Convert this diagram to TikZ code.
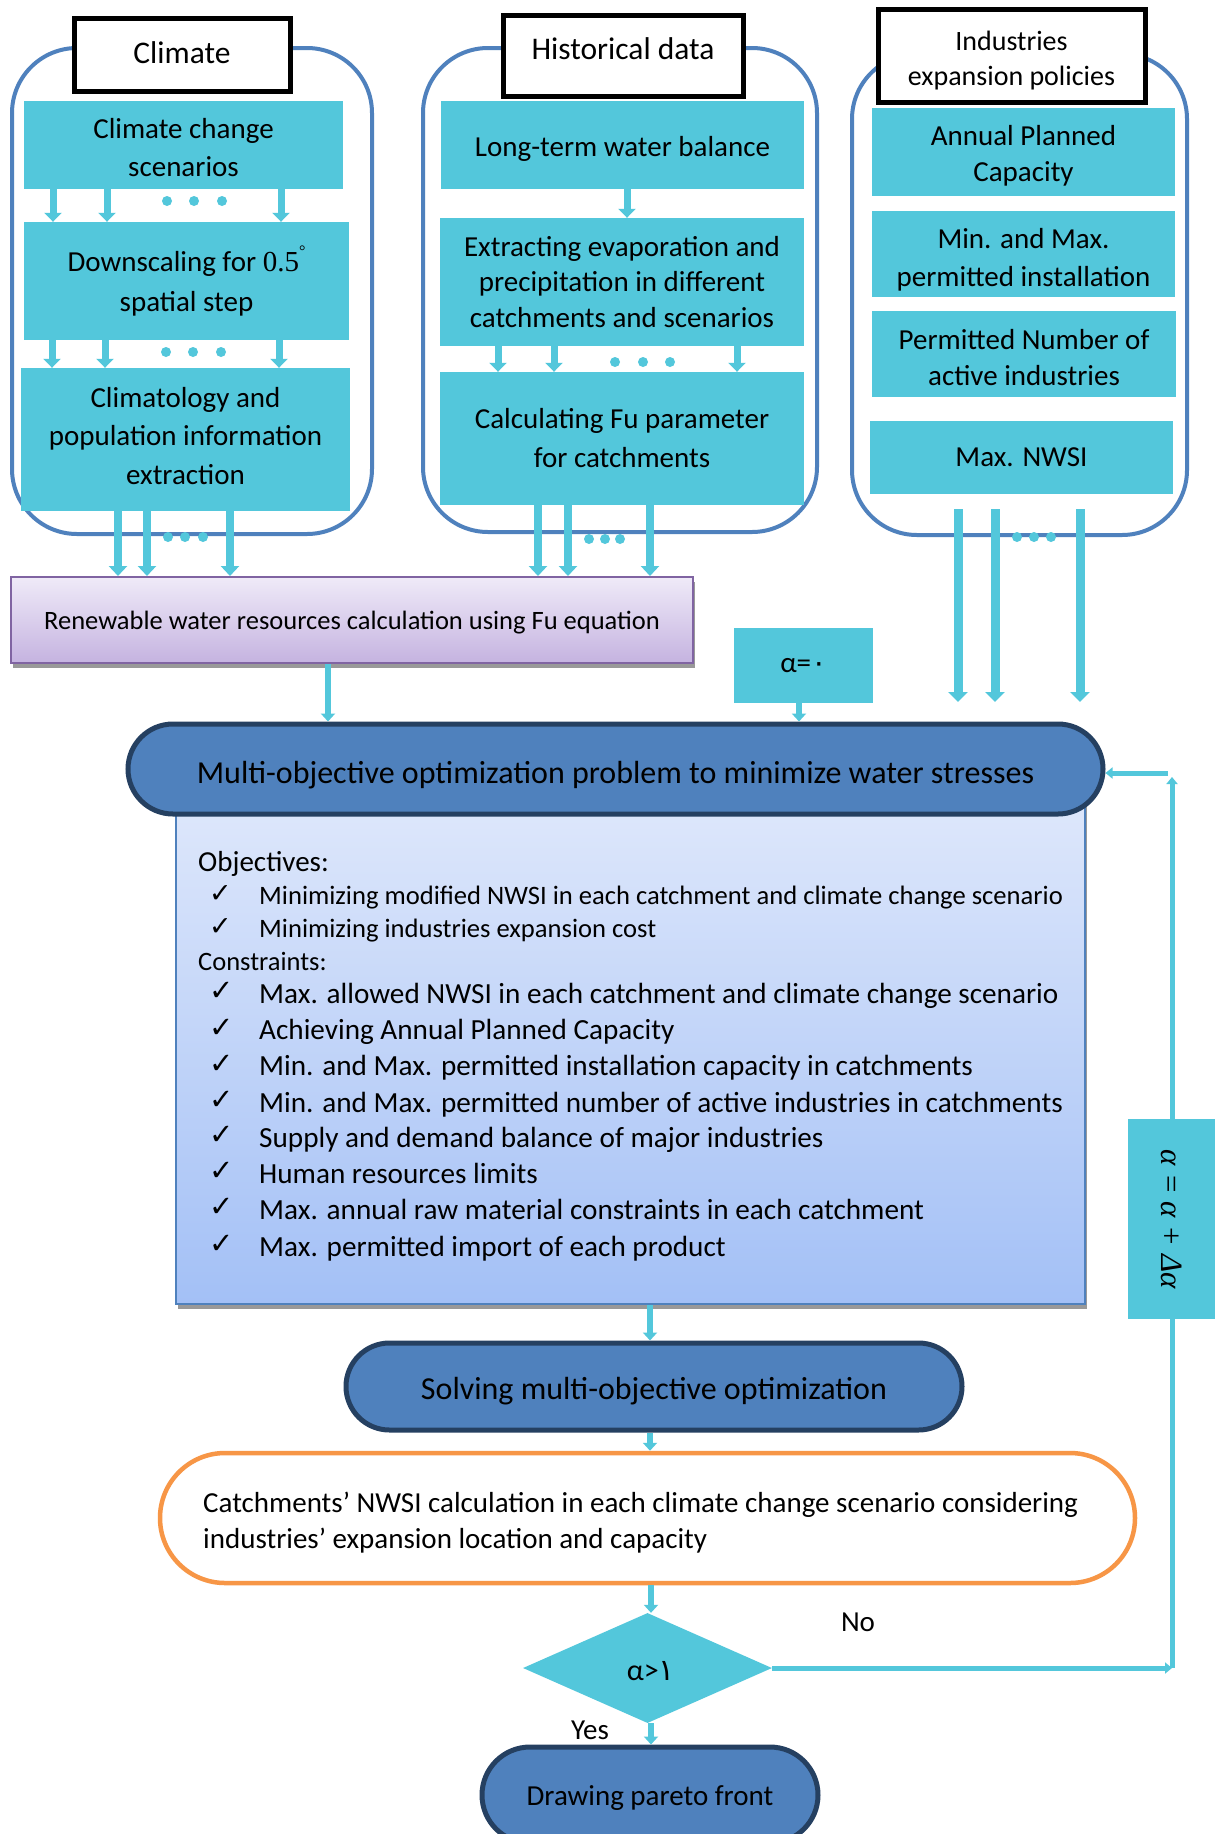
\documentclass[tikz,border=0pt]{standalone}
\usepackage{fontspec}
\setmainfont{Carlito}
\newfontfamily\arabicfont[Script=Arabic]{DejaVu Sans}
\newfontfamily\dejavu{DejaVu Sans}
\newfontfamily\serifmath{Liberation Serif}
\usetikzlibrary{arrows.meta,shapes.geometric,shadows}
\definecolor{aqua}{HTML}{53C7DB}
\definecolor{frameblue}{HTML}{4F81BD}
\definecolor{mainfill}{HTML}{4F81BD}
\definecolor{navy}{HTML}{254061}
\definecolor{orangeb}{HTML}{F79646}
\definecolor{purpb}{HTML}{8064A2}
\definecolor{renTop}{HTML}{EFEAF8}
\definecolor{renBot}{HTML}{C5B3E0}
\definecolor{objTop}{HTML}{DFE8FB}
\definecolor{objBot}{HTML}{A3C0F6}
\newcommand\fsz[2]{\fontsize{#1}{#2}\selectfont}
\newcommand\baseat[2]{\raisebox{-#1}[0pt][0pt]{#2}}
\tikzset{
  panel/.style={draw=frameblue, line width=4pt, rounded corners=65pt, inner sep=0pt},
  titlebox/.style={draw=black, line width=5pt, fill=white, inner sep=0pt, align=center, font=\fsz{31.5}{36}},
  cbox/.style={fill=aqua, inner sep=0pt, align=center, font=\fsz{29}{36}},
  plain/.style={inner sep=0pt, align=center, font=\fsz{29}{36}},
  smarr/.style={draw=aqua, line width=7pt, -{Triangle[width=17pt,length=9pt]}},
  outarr/.style={draw=aqua, line width=8pt, -{Triangle[width=18pt,length=10pt]}},
  indarr/.style={draw=aqua, line width=9pt, -{Triangle[width=19pt,length=10pt]}},
  midarr/.style={draw=aqua, line width=6pt, -{Triangle[width=14pt,length=8pt]}},
  fbarr/.style={draw=aqua, line width=5pt, -{Triangle[width=11pt,length=7pt]}},
  renbox/.style={draw=purpb, line width=2pt, top color=renTop, bottom color=renBot, inner sep=0pt,
    font=\fsz{26.5}{32}, drop shadow={shadow xshift=2pt, shadow yshift=-5pt, fill=gray!80, opacity=1}},
  objbox/.style={draw=frameblue, line width=2.5pt, top color=objTop, bottom color=objBot, inner sep=0pt,
    drop shadow={shadow xshift=2pt, shadow yshift=-5pt, fill=gray!80, opacity=1}},
  mainbox/.style={draw=navy, line width=5pt, fill=mainfill, inner sep=0pt, align=center},
  orbox/.style={draw=orangeb, line width=4.5pt, fill=white, inner sep=0pt, rounded corners=65pt},
  dot/.style={fill=aqua},
  objtxt/.style={anchor=mid west, inner sep=0pt, font=\fsz{26.6}{30}},
  contxt/.style={anchor=mid west, inner sep=0pt, font=\fsz{29.2}{33}},
  chk/.style={anchor=mid west, inner sep=0pt, font=\dejavu\fsz{27}{28}},
  chkb/.style={anchor=mid west, inner sep=0pt, font=\dejavu\fsz{29}{30}},
}
\begin{document}
\begin{tikzpicture}[x=1pt,y=-1pt]
\path[use as bounding box] (0,0) rectangle (1215,1834);
\clip (0,0) rectangle (1215,1834);
\fill[white] (0,0) rectangle (1215,1834);

% ---------- Climate panel ----------
\node[panel, minimum width=360pt, minimum height=486pt] (cf) at (192,291) {};
\node[titlebox, minimum width=216pt, minimum height=73pt] (ct) at (182,54.5) {\raisebox{3.5pt}{Climate}};
\node[cbox, minimum width=319pt, minimum height=88pt] (c1) at (183.5,145) {};
\node[plain, font=\fsz{29}{38}] (c1t) at (183.5,148) {Climate change\\scenarios};
\node[cbox, minimum width=325pt, minimum height=118pt, font=\fsz{29}{40}] (c2) at (186.5,281) {Downscaling for {\serifmath 0.5\raisebox{0.55em}{\fsz{16}{16}°}}\\spatial step};
\node[cbox, minimum width=329pt, minimum height=143pt] (c3) at (185.5,439.5) {};
\node[plain, font=\fsz{29}{38.6}] (c3t) at (185.5,436) {Climatology and\\population information\\extraction};

% ---------- Historical panel ----------
\node[panel, minimum width=394pt, minimum height=484pt] (hf) at (620,290) {};
\node[titlebox, minimum width=240pt, minimum height=81pt] (ht) at (623,55.5) {\baseat{3.5pt}{Historical data}};
\node[cbox, minimum width=363pt, minimum height=88pt] (h1) at (622.5,145) {\baseat{11pt}{Long-term water balance}};
\node[cbox, minimum width=364pt, minimum height=128pt, font=\fsz{29}{35.5}] (h2) at (622,282) {Extracting evaporation and\\precipitation in different\\catchments and scenarios};
\node[cbox, minimum width=364pt, minimum height=133pt, font=\fsz{29}{39}] (h3) at (622,438.5) {Calculating Fu parameter\\for catchments};

% ---------- Industries panel ----------
\node[panel, minimum width=335pt, minimum height=481pt] (if) at (1019.5,294.5) {};
\node[titlebox, minimum width=267pt, minimum height=93pt] (it) at (1011.5,55.5) {};
\node[plain, font=\fsz{28}{35}] (itt) at (1011.5,60.5) {Industries\\expansion policies};
\node[cbox, minimum width=303pt, minimum height=88pt] (i1) at (1023.5,152) {};
\node[plain] (i1t) at (1023.5,156) {Annual Planned\\Capacity};
\node[cbox, minimum width=303pt, minimum height=86pt] (i2) at (1023.5,254) {};
\node[plain, font=\fsz{29}{38}] (i2t) at (1023.5,260) {Min. and Max.\\permitted installation};
\node[cbox, minimum width=304pt, minimum height=86pt] (i3) at (1024,354) {};
\node[plain] (i3t) at (1024,358) {Permitted Number of\\active industries};
\node[cbox, minimum width=303pt, minimum height=73pt] (i4) at (1021.5,457.5) {Max. NWSI};

% ---------- Middle ----------
\node[renbox, minimum width=682pt, minimum height=86pt] (ren) at (352,620) {\baseat{9pt}{Renewable water resources calculation using Fu equation}};
\node[cbox, minimum width=139pt, minimum height=75pt] (a0) at (803.5,665.5) {α={\arabicfont ٠}};

\node[objbox, minimum width=909pt, minimum height=514pt] (obj) at (630.5,1047) {};
\node[mainbox, minimum width=975pt, minimum height=90pt, rounded corners=45pt, font=\fsz{32}{36}] (main) at (615.5,769) {\baseat{14pt}{Multi-objective optimization problem to minimize water stresses}};

% objectives text
\node[anchor=mid west, inner sep=0pt, font=\fsz{29}{32}] (t0) at (198,869) {Objectives:};
\node[chk] (k1) at (209,900) {✓};
\node[objtxt] (t1) at (259,902) {Minimizing modified NWSI in each catchment and climate change scenario};
\node[chk] (k2) at (209,933) {✓};
\node[objtxt] (t2) at (259,935) {Minimizing industries expansion cost};
\node[anchor=mid west, inner sep=0pt, font=\fsz{26.5}{30}] (t3) at (198,968) {Constraints:};
\node[chkb] (k4) at (209,998) {✓};
\node[contxt] (t4) at (259,1001) {Max. allowed NWSI in each catchment and climate change scenario};
\node[chkb] (k5) at (209,1035) {✓};
\node[contxt] (t5) at (259,1037) {Achieving Annual Planned Capacity};
\node[chkb] (k6) at (209,1071) {✓};
\node[contxt] (t6) at (259,1073) {Min. and Max. permitted installation capacity in catchments};
\node[chkb] (k7) at (209,1107) {✓};
\node[contxt] (t7) at (259,1110) {Min. and Max. permitted number of active industries in catchments};
\node[chkb] (k8) at (209,1142) {✓};
\node[contxt] (t8) at (259,1145) {Supply and demand balance of major industries};
\node[chkb] (k9) at (209,1178) {✓};
\node[contxt] (t9) at (259,1181) {Human resources limits};
\node[chkb] (k10) at (209,1214) {✓};
\node[contxt] (t10) at (259,1217) {Max. annual raw material constraints in each catchment};
\node[chkb] (k11) at (209,1251) {✓};
\node[contxt] (t11) at (259,1254) {Max. permitted import of each product};

\node[mainbox, minimum width=616pt, minimum height=87pt, rounded corners=43.5pt, font=\fsz{32}{36}] (solve) at (654,1386.5) {\baseat{12.5pt}{Solving multi-objective optimization}};
\node[orbox, minimum width=975pt, minimum height=130pt] (catch) at (647.5,1518) {};
\node[anchor=west, inner sep=0pt, align=left, font=\fsz{29}{36}] (catcht) at (203,1522.5) {Catchments’ NWSI calculation in each climate change scenario considering\\industries’ expansion location and capacity};
\node[diamond, fill=aqua, minimum width=249pt, minimum height=110pt, inner sep=0pt] (dia) at (647.5,1668) {};
\node[inner sep=0pt, font=\fsz{30}{32}] (diat) at (651,1671.5) {α>{\arabicfont ١}};
\node[mainbox, minimum width=336pt, minimum height=96pt, rounded corners=48pt, font=\fsz{29}{32}] (par) at (650,1795) {\baseat{10pt}{Drawing pareto front}};
\node[plain] (no) at (858,1622) {No};
\node[plain] (yes) at (590,1730) {Yes};

% ---------- connectors ----------
\foreach \x in {53,107,281} \draw[smarr] (c1.south -| \x,0) -- (c2.north -| \x,0);
\foreach \x in {167,194,222} \fill[dot] (\x,201) circle (5pt);
\foreach \x in {52,105,279} \draw[smarr] (c2.south -| \x,0) -- (c3.north -| \x,0);
\foreach \x in {166,193,221} \fill[dot] (\x,352) circle (5pt);
\foreach \x in {118,147,230} \draw[outarr] (c3.south -| \x,0) -- (ren.north -| \x,0);
\foreach \x in {168,185,203} \fill[dot] (\x,537) circle (5pt);

\draw[smarr] (h1.south -| 627,0) -- (h2.north -| 627,0);
\foreach \x in {498,554,737} \draw[smarr] (h2.south -| \x,0) -- (h3.north -| \x,0);
\foreach \x in {615,643,670} \fill[dot] (\x,362) circle (5pt);
\foreach \x in {538,568,650} \draw[outarr] (h3.south -| \x,0) -- (ren.north -| \x,0);
\foreach \x in {589,605,620} \fill[dot] (\x,539) circle (5pt);

\coordinate (indout) at (0,509);
\coordinate (indin) at (0,702);
\foreach \x in {958,995,1080} \draw[indarr] (indout -| \x,0) -- (indin -| \x,0);
\foreach \x in {1017,1034,1051} \fill[dot] (\x,537) circle (5pt);

\draw[midarr] (ren.south -| 328,0) -- (main.north -| 328,0);
\draw[midarr] (a0.south -| 799,0) -- (main.north -| 799,0);
\draw[midarr] (obj.south -| 650,0) -- (solve.north -| 650,0);
\draw[midarr] (solve.south -| 650,0) -- (catch.north -| 650,0);
\draw[midarr] (catch.south -| 651,0) -- (dia.north -| 651,0);
\draw[midarr] (dia.south -| 651,0) -- (par.north -| 651,0);

\coordinate (fbR) at (1172,1668);
\coordinate (fbT) at (1172,777);
\coordinate (fbL) at (1168,773);
\draw[fbarr] (dia.east) -- (fbR);
\draw[fbarr] (fbR) -- (fbT);
\draw[fbarr] (fbL) -- (fbL -| main.east);
\node[cbox, minimum width=87pt, minimum height=200pt] (aup) at (1171.5,1219) {};
\node[rotate=-90, inner sep=0pt, font=\serifmath\fsz{31}{34}] (aupt) at (aup) {\itshape α = α + Δα};
\end{tikzpicture}
\end{document}
